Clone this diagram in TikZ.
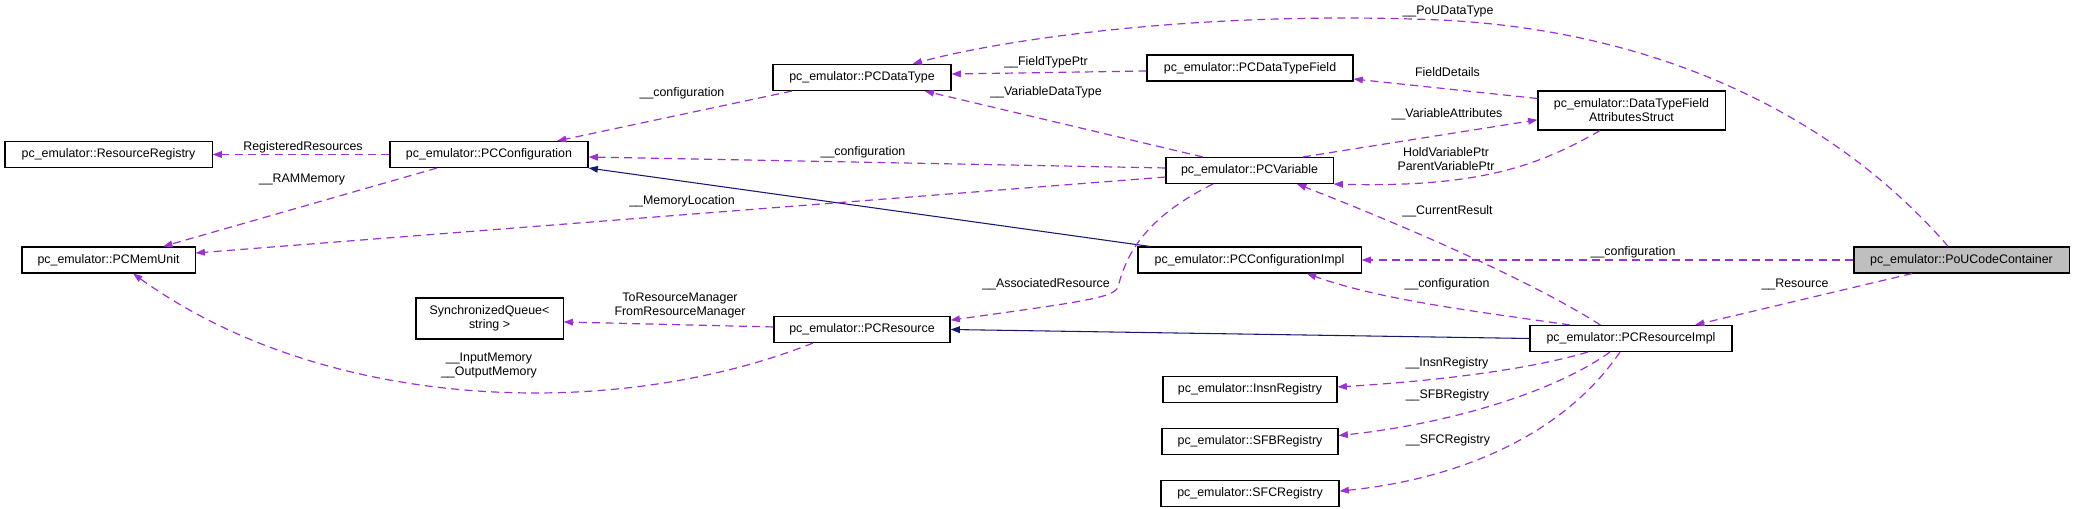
\documentclass[tikz,border=0pt]{standalone}
\usepackage{fontspec}
\setmainfont{Liberation Sans}
\usepackage{xcolor}
\usepackage{tikz}
\usetikzlibrary{arrows.meta, positioning, calc}

\definecolor{relpurple}{HTML}{9A32CD}
\definecolor{inhnavy}{HTML}{191970}
\definecolor{boxgray}{HTML}{BFBFBF}

\begin{document}
\begin{tikzpicture}[
		x=0.75pt, y=-0.75pt,
		every node/.style={font=\fontsize{9.3}{10.5}\selectfont},
		cls/.style={draw, line width=0.8pt, rectangle, inner sep=2pt, minimum height=19.5pt, align=center},
		usage/.style={-{Triangle[length=7pt,width=5pt]}, relpurple, line width=0.9pt, dash pattern=on 6pt off 4pt},
		inherit/.style={-{Triangle[length=7pt,width=5pt]}, inhnavy, line width=0.8pt},
		lbl/.style={inner sep=0pt, align=center, text=black}
		]
		\useasboundingbox (0,0) rectangle (2075,509);
		
		% Left column
		\node[cls, minimum width=155.3pt] (resreg) at (108.5,154.5) {pc\_emulator::ResourceRegistry};
		\node[cls, minimum width=129.8pt] (memunit) at (108.5,260) {pc\_emulator::PCMemUnit};
		\node[cls, minimum width=148.5pt] (conf) at (489,154.5) {pc\_emulator::PCConfiguration};
		\node[cls, minimum width=110.3pt, minimum height=30.75pt] (syncq) at (489.5,318.5) {SynchronizedQueue<\\ string >};
		
		% Middle column
		\node[cls, minimum width=133.5pt] (datatype) at (862,77.5) {pc\_emulator::PCDataType};
		\node[cls, minimum width=132pt] (resource) at (862,329.5) {pc\_emulator::PCResource};
		\node[cls, minimum width=154.5pt] (dtfield) at (1250,68) {pc\_emulator::PCDataTypeField};
		\node[cls, minimum width=125.3pt] (variable) at (1249.5,170.5) {pc\_emulator::PCVariable};
		\node[cls, minimum width=167.3pt] (confimpl) at (1249.5,260) {pc\_emulator::PCConfigurationImpl};
		\node[cls, minimum width=130.5pt] (insn) at (1250,389.5) {pc\_emulator::InsnRegistry};
		\node[cls, minimum width=132pt, below=18.75pt of insn] (sfb) {pc\_emulator::SFBRegistry};
		\node[cls, minimum width=133.5pt, below=18.75pt of sfb] (sfc) {pc\_emulator::SFCRegistry};
		
		% Right column
		\node[cls, minimum width=140.3pt, minimum height=29.25pt] (dtfas) at (1631.5,110.5) {pc\_emulator::DataTypeField\\AttributesStruct};
		\node[cls, minimum width=151.5pt] (resimpl) at (1631,338.5) {pc\_emulator::PCResourceImpl};
		\node[cls, minimum width=161.3pt, fill=boxgray] (pou) at (1961.5,260) {pc\_emulator::PoUCodeContainer};
		
		% Inheritance
		\draw[inherit] ([xshift=-74.6pt]confimpl.north) -- (conf.south east);
		\draw[inherit] (resimpl.west) -- (resource.east);
		
		% Usage relations
		\draw[usage] (conf.west) -- (resreg.east)
		node[lbl] at (303,147) {RegisteredResources};
		\draw[usage] ([xshift=-39pt]conf.south) -- ([xshift=41pt]memunit.north)
		node[lbl] at (302,180) {\_\_RAMMemory};
		\draw[usage] ([xshift=-52.5pt]datatype.south) -- ([xshift=51pt]conf.north)
		node[lbl] at (682,93) {\_\_configuration};
		\draw[usage] ([yshift=1.9pt]variable.west) -- ([yshift=-1.9pt]conf.east)
		node[lbl] at (863,152) {\_\_configuration};
		\draw[usage] ([yshift=-4.9pt]variable.west) -- ([yshift=5.25pt]memunit.east)
		node[lbl] at (682,201) {\_\_MemoryLocation};
		\draw[usage] ([yshift=-2.25pt]dtfield.west) -- ([yshift=2.6pt]datatype.east)
		node[lbl] at (1046,62) {\_\_FieldTypePtr};
		\draw[usage] ([xshift=-35pt]variable.north) -- ([xshift=47pt]datatype.south)
		node[lbl] at (1046,92) {\_\_VariableDataType};
		\draw[usage] ([xshift=-10pt]pou.north) .. controls (1830,110) and (1650,30) .. (1440,20)
		.. controls (1200,10) and (1000,40) .. ([xshift=38pt]datatype.north)
		node[lbl] at (1448,12) {\_\_PoUDataType};
		\draw[usage] ([yshift=9pt]dtfas.west) -- ([yshift=-8.25pt]dtfield.east)
		node[lbl] at (1447.5,72) {FieldDetails};
		\draw[usage] ([xshift=40pt]variable.north) -- ([yshift=-7pt]dtfas.west)
		node[lbl] at (1447,114) {\_\_VariableAttributes};
		\draw[usage] ([xshift=-23.6pt]dtfas.south) .. controls (1540,165) and (1480,188) .. (variable.south east)
		node[lbl] at (1446,158.7) {HoldVariablePtr\\ParentVariablePtr};
		\draw[usage] ([xshift=-23pt]resimpl.north) .. controls (1530,280) and (1400,224) .. ([xshift=35.6pt]variable.south)
		node[lbl] at (1447.5,211) {\_\_CurrentResult};
		\draw[usage] (pou.west) -- (confimpl.east)
		node[lbl] at (1633,252) {\_\_configuration};
		\draw[usage] ([xshift=-45.75pt]resimpl.north) .. controls (1480,312) and (1380,300) .. ([xshift=43pt]confimpl.south)
		node[lbl] at (1447,284) {\_\_configuration};
		\draw[usage] ([xshift=-37pt]pou.south) -- ([xshift=48pt]resimpl.north)
		node[lbl] at (1795,284) {\_\_Resource};
		\draw[usage] ([xshift=-27.4pt]variable.south) .. controls (1140,220) and (1125,260) .. (1118,287)
		.. controls (1114,298) and (1080,302) .. ([yshift=7pt]resource.east)
		node[lbl] at (1046,284) {\_\_AssociatedResource};
		\draw[usage] ([yshift=1.9pt]resource.west) -- ([yshift=-2.6pt]syncq.east)
		node[lbl] at (680,305.5) {ToResourceManager\\FromResourceManager};
		\draw[usage] ([xshift=-36.75pt]resource.south) .. controls (620,420) and (330,415) .. ([xshift=18.4pt]memunit.south)
		node[lbl] at (489,365.5) {\_\_InputMemory\\\_\_OutputMemory};
		\draw[usage] ([xshift=-32.25pt]resimpl.south) .. controls (1520,372) and (1420,382) .. ([yshift=1.9pt]insn.east)
		node[lbl] at (1447,363) {\_\_InsnRegistry};
		\draw[usage] ([xshift=-15.75pt]resimpl.south) .. controls (1550,395) and (1440,425) .. ([yshift=4.5pt]sfb.east)
		node[lbl] at (1447.5,395) {\_\_SFBRegistry};
		\draw[usage] ([xshift=-8.25pt]resimpl.south) .. controls (1560,440) and (1450,480) .. ([yshift=1.9pt]sfc.east)
		node[lbl] at (1448,440) {\_\_SFCRegistry};
		
	\end{tikzpicture}
\end{document}
